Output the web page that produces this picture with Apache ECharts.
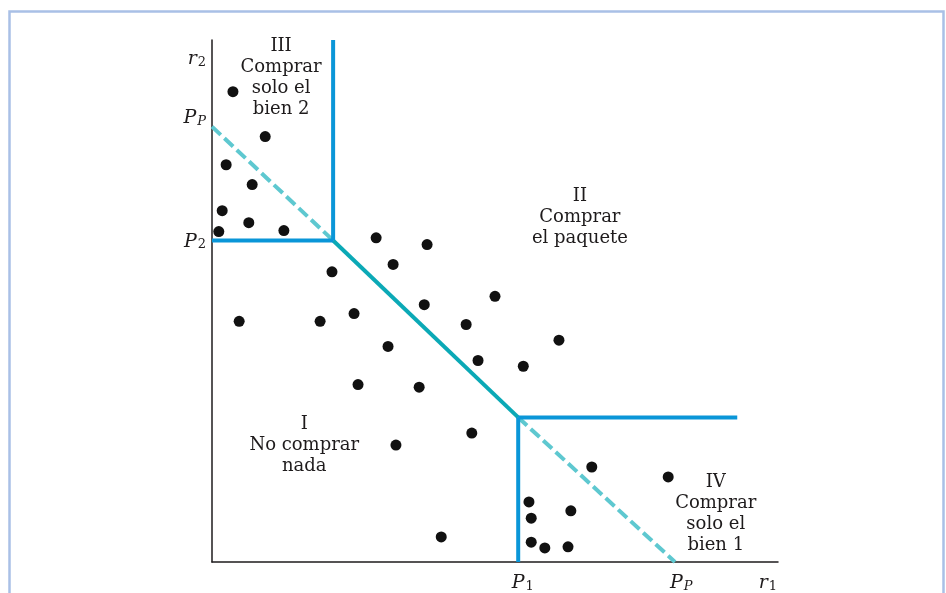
<!DOCTYPE html>
<html>
<head>
<meta charset="utf-8">
<script src="https://cdn.jsdelivr.net/npm/echarts@6/dist/echarts.min.js"></script>
<style>html,body{margin:0;padding:0;background:#fff;}#c{width:946px;height:593px;}</style>
</head>
<body>
<div id="c"></div>
<script>
// ---- data (axis units: 0..100 on each axis) ----
var P2 = 61.6;          // price of good 2 (y)
var P1 = 54.1;          // price of good 1 (x)
var PPy = 83.4;         // bundle price on r2 axis
var PPx = 81.8;         // bundle price on r1 axis
var kinkX = 21.4;       // x where P2 meets bundle line
var kinkY = 27.7;       // y where P1 meets bundle line
var rightEnd = 92.8;    // end of horizontal boundary
var topEnd = 100;

var dotsX = [3.7, 9.4, 2.5, 7.1, 1.8, 6.5, 1.2, 12.7, 29.0, 38.0, 21.2, 32.0, 50.0, 37.5, 25.1, 19.1, 44.9, 61.3, 31.1, 47.0, 55.0, 25.8, 36.6, 4.8, 45.9, 32.5, 67.1, 80.6, 56.0, 56.4, 63.4, 56.4, 58.8, 62.9, 40.5];
var dotsY = [90.1, 81.5, 76.1, 72.3, 67.3, 65.0, 63.3, 63.5, 62.1, 60.8, 55.6, 57.0, 50.9, 49.3, 47.6, 46.1, 45.5, 42.5, 41.3, 38.6, 37.5, 34.0, 33.5, 46.1, 24.7, 22.4, 18.2, 16.3, 11.5, 8.4, 9.8, 3.8, 2.7, 2.9, 4.8];

var yTickValues = [96.6, 85.3, 61.6];
var yTickLabels = ['{m|r}{s|2}', '{m|P}{si|P}', '{m|P}{s|2}'];
var xTickValues = [54.9, 82.9, 98.2];
var xTickLabels = ['{m|P}{s|1}', '{m|P}{si|P}', '{m|r}{s|1}'];

var regionX = [12.2, 65.0, 16.3, 89.0];
var regionY = [92.8, 66.1, 22.4, 9.2];
var regionText = [
  'III\nComprar\nsolo el\nbien 2',
  'II\nComprar\nel paquete',
  'I\nNo comprar\nnada',
  'IV\nComprar\nsolo el\nbien 1'
];

// ---- chart ----
var FONT = 'DejaVu Serif';
var INK = '#1e1b1c';
var BLUE = '#0a96d8';
var TEAL = '#0ba9b6';
var LTEAL = '#5ec8d0';
var richStyles = {
  m: {fontFamily: FONT, fontStyle: 'italic', fontSize: 19, color: INK, lineHeight: 22, verticalAlign: 'bottom'},
  s: {fontFamily: FONT, fontSize: 13, color: INK, lineHeight: 13, verticalAlign: 'bottom', padding: [0, 0, 0, 1]},
  si: {fontFamily: FONT, fontStyle: 'italic', fontSize: 13, color: INK, lineHeight: 13, verticalAlign: 'bottom', padding: [0, 0, 0, 1]}
};

var dots = dotsX.map(function (x, i) { return [x, dotsY[i]]; });
var regions = regionX.map(function (x, i) { return [x, regionY[i], regionText[i]]; });

function seg(data, color, type) {
  return {
    type: 'line', data: data, symbol: 'none', silent: true, z: 3,
    lineStyle: {color: color, width: 4, type: type || 'solid', cap: 'butt', join: 'miter', opacity: 1}
  };
}

var chart = echarts.init(document.getElementById('c'), null, {renderer: 'canvas'});
chart.setOption({
  animation: false,
  backgroundColor: '#fff',
  grid: {left: 212, top: 40, width: 566, height: 523, containLabel: false},
  xAxis: {
    type: 'value', min: 0, max: 100,
    splitLine: {show: false},
    axisLine: {show: true, lineStyle: {color: INK, width: 1.5}},
    axisTick: {show: false},
    axisLabel: {
      customValues: xTickValues, margin: 9,
      formatter: function (v) { return xTickLabels[xTickValues.indexOf(v)]; },
      rich: richStyles
    }
  },
  yAxis: {
    type: 'value', min: 0, max: 100,
    splitLine: {show: false},
    axisLine: {show: true, lineStyle: {color: INK, width: 1.5}},
    axisTick: {show: false},
    axisLabel: {
      customValues: yTickValues, margin: 6,
      formatter: function (v) { return yTickLabels[yTickValues.indexOf(v)]; },
      rich: richStyles
    }
  },
  graphic: [{
    type: 'rect', left: 7, top: 9, z: -1, silent: true,
    shape: {width: 934, height: 620},
    style: {fill: 'none', stroke: '#a9c0e6', lineWidth: 2.5}
  }],
  series: [
    seg([[0, PPy], [kinkX, P2]], LTEAL, [12, 5]),
    seg([[P1, kinkY], [PPx, 0]], LTEAL, [12, 5]),
    seg([[kinkX, P2], [P1, kinkY]], TEAL),
    seg([[0, P2], [kinkX, P2]], BLUE),
    seg([[kinkX, P2], [kinkX, topEnd]], BLUE),
    seg([[P1, kinkY], [rightEnd, kinkY]], BLUE),
    seg([[P1, 0], [P1, kinkY]], BLUE),
    {
      type: 'scatter', data: dots, symbol: 'circle', symbolSize: 11, z: 5,
      itemStyle: {color: '#111', opacity: 1}
    },
    {
      type: 'scatter', data: regions, symbolSize: 0, z: 6,
      itemStyle: {opacity: 1},
      label: {
        show: true, position: 'inside', opacity: 1,
        formatter: function (p) { return p.data[2]; },
        fontFamily: FONT, fontSize: 18, lineHeight: 21, color: INK, align: 'center'
      }
    }
  ]
});
</script>
</body>
</html>
